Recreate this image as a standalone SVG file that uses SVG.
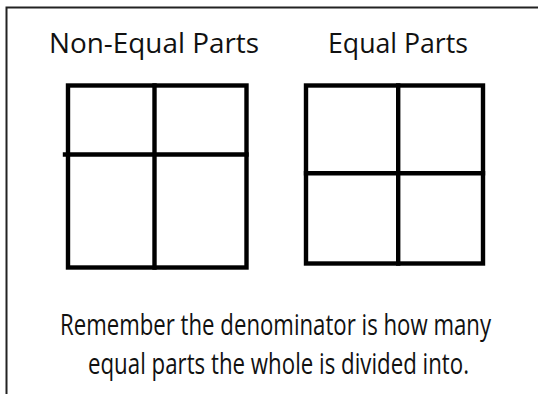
<svg xmlns="http://www.w3.org/2000/svg" width="538" height="394" viewBox="0 0 538 394">
  <style>
    .title { font-family: "Open Sans", "Noto Sans", "DejaVu Sans", sans-serif; font-size: 28px; fill: #111; }
    .note { font-family: "Open Sans", "Noto Sans", "DejaVu Sans", sans-serif; font-size: 30px; fill: #111; }
    .grid { fill: none; stroke: #000; stroke-width: 4.4; stroke-linecap: square; }
    .frame { fill: none; stroke: #222; stroke-width: 2; }
  </style>
  <rect x="0" y="0" width="538" height="394" fill="#fff"/>
  <path class="frame" d="M6.5,394 V7.5 H538"/>

  <g id="non-equal">
    <text class="title" x="49" y="53" textLength="210" lengthAdjust="spacingAndGlyphs">Non-Equal Parts</text>
    <rect class="grid" x="68" y="85.5" width="178.5" height="182"/>
    <line class="grid" x1="154.5" y1="85.5" x2="154.5" y2="267.5"/>
    <line class="grid" x1="65" y1="154.5" x2="246.5" y2="154.5"/>
  </g>

  <g id="equal">
    <text class="title" x="328" y="53" textLength="140" lengthAdjust="spacingAndGlyphs">Equal Parts</text>
    <rect class="grid" x="306" y="85.5" width="177" height="178"/>
    <line class="grid" x1="398.2" y1="85.5" x2="398.2" y2="263.5"/>
    <line class="grid" x1="306" y1="173.3" x2="483" y2="173.3"/>
  </g>

  <g id="note">
    <text class="note" transform="translate(60,335) scale(0.8,1)" x="0" y="0" textLength="538.75" lengthAdjust="spacingAndGlyphs">Remember the denominator is how many</text>
    <text class="note" transform="translate(88,374) scale(0.8,1)" x="0" y="0" textLength="476.25" lengthAdjust="spacingAndGlyphs">equal parts the whole is divided into.</text>
  </g>
</svg>
